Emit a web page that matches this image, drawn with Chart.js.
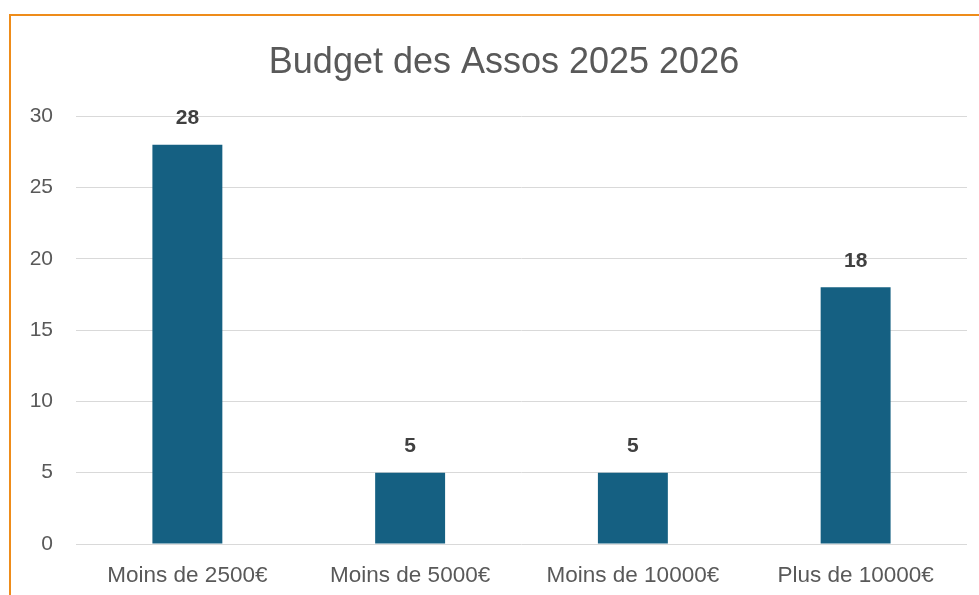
<!DOCTYPE html>
<html>
<head>
<meta charset="utf-8">
<script src="https://cdn.jsdelivr.net/npm/chart.js@4/dist/chart.umd.min.js"></script>
<style>
  html, body { margin: 0; padding: 0; background: #fff; overflow: hidden; }
  #frame {
    position: absolute; left: 9px; top: 14px;
    width: 988px; height: 600px;
    border-left: 2px solid #EE8C1A; border-top: 2px solid #EE8C1A;
  }
  #frame canvas { display: block; }
</style>
</head>
<body>
<div id="frame"><canvas id="chart" width="986" height="579"></canvas></div>
<script>
// chart data
const categories = ['Moins de 2500€', 'Moins de 5000€', 'Moins de 10000€', 'Plus de 10000€'];
const counts = [28, 5, 5, 18];
const titleText = 'Budget des Assos 2025 2026';

const FONT = "'Liberation Sans', Arial, sans-serif";

// value labels above each bar
const barLabels = {
  id: 'barLabels',
  afterDatasetsDraw(chart) {
    const ctx = chart.ctx;
    const meta = chart.getDatasetMeta(0);
    ctx.save();
    ctx.font = 'bold 21px ' + FONT;
    ctx.fillStyle = '#404040';
    ctx.textAlign = 'center';
    ctx.textBaseline = 'middle';
    meta.data.forEach((bar, i) => {
      ctx.fillText(String(counts[i]), bar.x, bar.y - 26.5);
    });
    ctx.restore();
  }
};

new Chart(document.getElementById('chart'), {
  type: 'bar',
  data: {
    labels: categories,
    datasets: [{
      data: counts,
      backgroundColor: '#156082',
      borderWidth: 0,
      categoryPercentage: 1,
      barPercentage: 0.314
    }]
  },
  options: {
    responsive: false,
    animation: false,
    layout: { padding: 0 },
    plugins: {
      legend: { display: false },
      tooltip: { enabled: false },
      title: {
        display: true,
        text: titleText,
        color: '#595959',
        font: { family: FONT, size: 36, weight: 'normal', lineHeight: 1.2 },
        padding: { top: 25, bottom: 32 }
      }
    },
    scales: {
      x: {
        grid: { display: false, drawTicks: false },
        border: { display: false },
        ticks: { color: '#595959', font: { family: FONT, size: 22.5 }, padding: 18, maxRotation: 0 },
        afterFit(scale) { scale.height = 51; }
      },
      y: {
        min: 0,
        max: 30,
        grid: { color: '#d9d9d9', lineWidth: 1, drawTicks: false },
        border: { display: false },
        ticks: { stepSize: 5, color: '#595959', font: { family: FONT, size: 21 }, padding: 23 },
        afterFit(scale) { scale.width = 65; }
      },
      // empty right margin so the title stays centred on the whole frame
      yRight: {
        position: 'right',
        grid: { display: false, drawTicks: false },
        border: { display: false },
        ticks: { display: false },
        afterFit(scale) { scale.width = 30; }
      }
    }
  },
  plugins: [barLabels]
});
</script>
</body>
</html>
